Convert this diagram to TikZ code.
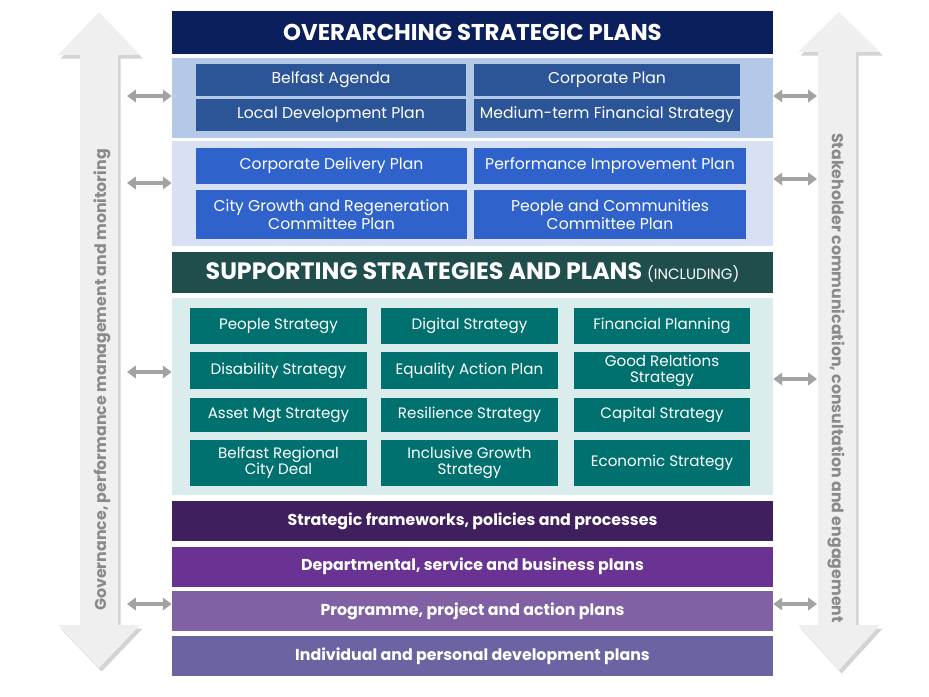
\documentclass[tikz,border=0pt]{standalone}
\usepackage{fontspec}
\setmainfont{Poppins}
\usetikzlibrary{arrows.meta}
\usetikzlibrary{shadows}
\usetikzlibrary{positioning}
\definecolor{navy}{HTML}{0B1F5C}
\definecolor{blueA}{HTML}{2C5598}
\definecolor{blueB}{HTML}{2F62CB}
\definecolor{bgA}{HTML}{B4C8E8}
\definecolor{bgB}{HTML}{D7E1F3}
\definecolor{tealdark}{HTML}{1F4E4D}
\definecolor{teal}{HTML}{00716E}
\definecolor{bgT}{HTML}{DAEDEC}
\definecolor{purA}{HTML}{401F5E}
\definecolor{purB}{HTML}{6A3393}
\definecolor{purC}{HTML}{8061A4}
\definecolor{purD}{HTML}{6B64A3}
\definecolor{shaft}{HTML}{EFEFEF}
\definecolor{tipgray}{HTML}{A3A3A3}
\definecolor{sidetext}{HTML}{8A8A8A}
\begin{document}
\begin{tikzpicture}[x=0.02cm, y=-0.02cm,
  bg/.style={rectangle, inner sep=0pt, minimum width=12.02cm},
  plan/.style={rectangle, fill=#1, text=white, inner sep=0pt, align=center, font=\fontsize{8.9}{10.5}\selectfont},
  strat/.style={plan=teal, minimum width=3.54cm, font=\fontsize{8.6}{9}\selectfont},
  band/.style={bg, text=white, font=\bfseries\fontsize{9}{10}\selectfont, minimum height=0.8cm},
  link/.style={{Triangle[width=7pt,length=5pt]}-{Triangle[width=7pt,length=5pt]}, tipgray, line width=2.2pt},
  bigarrow/.style={fill=shaft, drop shadow={shadow xshift=1.5pt, shadow yshift=-2pt, opacity=0.35}}]
\useasboundingbox (0,0) rectangle (929,696);
% side arrows
\fill [bigarrow] (99,12) -- (140,55) -- (118,55) -- (118,625) -- (140,625) -- (99,668) -- (58,625) -- (80,625) -- (80,55) -- (58,55) -- cycle;
\fill [bigarrow] (839,12) -- (880,52) -- (856,52) -- (856,625) -- (880,625) -- (839,670) -- (798,625) -- (818,625) -- (818,52) -- (798,52) -- cycle;
\node [rotate=90, text=sidetext, font=\bfseries\fontsize{9}{10}\selectfont] (gov) at (102,380) {Governance, performance management and monitoring};
\node [rotate=-90, text=sidetext, font=\bfseries\fontsize{9}{10}\selectfont] (stake) at (836,378) {Stakeholder communication, consultation and engagement};
% overarching plans
\node [bg, fill=navy, minimum height=0.86cm, text=white, font=\bfseries\fontsize{13}{14}\selectfont] (over) at (472.5,32.5) {OVERARCHING STRATEGIC PLANS};
\node [bg, fill=bgA, minimum height=1.6cm] (secA) at (472.5,98) {};
\node [bg, fill=bgB, minimum height=2.1cm] (secB) at (472.5,193.5) {};
\node [plan=blueA, minimum width=5.4cm, minimum height=0.64cm] (agenda) at (331,80) {Belfast Agenda};
\node [plan=blueA, minimum width=5.4cm, minimum height=0.64cm] (ldp) at (331,115) {Local Development Plan};
\node [plan=blueA, minimum width=5.32cm, minimum height=0.64cm] (corp) at (607,80) {Corporate Plan};
\node [plan=blueA, minimum width=5.32cm, minimum height=0.64cm] (mtfs) at (607,115) {Medium-term Financial Strategy};
\node [plan=blueB, minimum width=5.42cm, minimum height=0.72cm] (cdp) at (331.5,166) {Corporate Delivery Plan};
\node [plan=blueB, minimum width=5.42cm, minimum height=0.98cm] (cgr) at (331.5,214.5) {City Growth and Regeneration\\Committee Plan};
\node [plan=blueB, minimum width=5.44cm, minimum height=0.72cm] (pip) at (610,166) {Performance Improvement Plan};
\node [plan=blueB, minimum width=5.44cm, minimum height=0.98cm] (pcc) at (610,214.5) {People and Communities\\Committee Plan};
% supporting strategies
\node [bg, fill=tealdark, minimum height=0.82cm, text=white, font=\bfseries\fontsize{13.5}{14}\selectfont] (supp) at (472.5,272.5) {SUPPORTING STRATEGIES AND PLANS {\mdseries\fontsize{8.5}{9}\selectfont (INCLUDING)}};
\node [bg, fill=bgT, minimum height=3.94cm] (secT) at (472.5,396.5) {};
\node [strat, minimum height=0.72cm] (people) at (278.5,326) {People Strategy};
\node [strat, minimum height=0.72cm] (digital) at (469.5,326) {Digital Strategy};
\node [strat, minimum height=0.72cm] (finance) at (662,326) {Financial Planning};
\node [strat, minimum height=0.74cm] (disab) at (278.5,370.5) {Disability Strategy};
\node [strat, minimum height=0.74cm] (equal) at (469.5,370.5) {Equality Action Plan};
\node [strat, minimum height=0.74cm] (good) at (662,370.5) {Good Relations\\Strategy};
\node [strat, minimum height=0.68cm] (asset) at (278.5,415) {Asset Mgt Strategy};
\node [strat, minimum height=0.68cm] (resil) at (469.5,415) {Resilience Strategy};
\node [strat, minimum height=0.68cm] (capital) at (662,415) {Capital Strategy};
\node [strat, minimum height=0.92cm] (deal) at (278.5,463) {Belfast Regional\\City Deal};
\node [strat, minimum height=0.92cm] (incl) at (469.5,463) {Inclusive Growth\\Strategy};
\node [strat, minimum height=0.92cm] (econ) at (662,463) {Economic Strategy};
% lower bands
\node [band, fill=purA] (frame) at (472.5,521) {Strategic frameworks, policies and processes};
\node [band, fill=purB] (dept) at (472.5,566.5) {Departmental, service and business plans};
\node [band, fill=purC] (prog) at (472.5,611) {Programme, project and action plans};
\node [band, fill=purD] (indiv) at (472.5,656) {Individual and personal development plans};
% links to the side arrows
\coordinate (lA) at (127,96);
\coordinate (lB) at (127,183);
\coordinate (lT) at (127,372);
\coordinate (lP) at (127,604);
\coordinate (rA) at (817,96);
\coordinate (rB) at (817,179);
\coordinate (rT) at (817,379);
\coordinate (rP) at (817,604);
\draw [link] (lA) -- (lA -| secA.west);
\draw [link] (lB) -- (lB -| secB.west);
\draw [link] (lT) -- (lT -| secT.west);
\draw [link] (lP) -- (lP -| prog.west);
\draw [link] (rA -| secA.east) -- (rA);
\draw [link] (rB -| secB.east) -- (rB);
\draw [link] (rT -| secT.east) -- (rT);
\draw [link] (rP -| prog.east) -- (rP);
\end{tikzpicture}
\end{document}
